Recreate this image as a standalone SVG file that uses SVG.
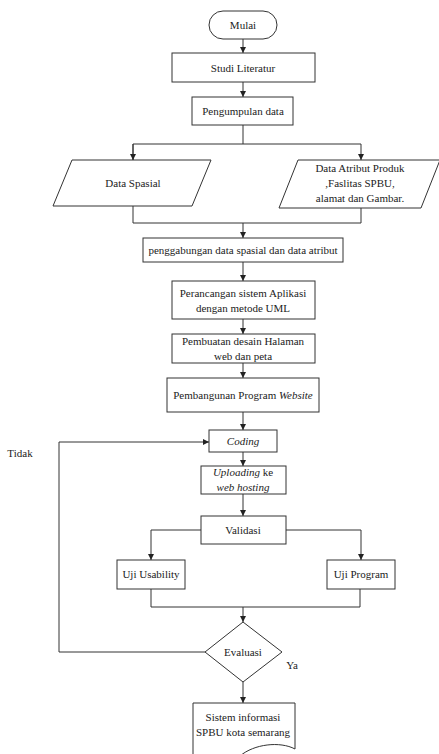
<svg xmlns="http://www.w3.org/2000/svg" width="439" height="754" viewBox="0 0 439 754">
<style>
.s{fill:#fff;stroke:#333;stroke-width:1}
.c{fill:none;stroke:#333;stroke-width:1}
text{font-family:"Liberation Serif","Times New Roman",serif;font-size:11px;fill:#222;text-anchor:middle}
.i{font-style:italic}
</style>
<defs>
<marker id="a" viewBox="0 0 6 6" refX="6" refY="3" markerWidth="6" markerHeight="6" orient="auto" markerUnits="userSpaceOnUse">
<path d="M0,0 L6,3 L0,6 z" fill="#222"/>
</marker>
</defs>
<rect width="439" height="754" fill="#fff"/>
<g id="connectors">
<path class="c" d="M243,39 V53" marker-end="url(#a)"/>
<path class="c" d="M243,82 V97" marker-end="url(#a)"/>
<path class="c" d="M243,125 V144"/>
<path class="c" d="M133,160 V144 H361 V160" marker-end="url(#a)"/>
<path class="c" d="M133,144 V160" marker-end="url(#a)"/>
<path class="c" d="M133,206 V223 H361 V208"/>
<path class="c" d="M243,223 V238" marker-end="url(#a)"/>
<path class="c" d="M243,262 V281" marker-end="url(#a)"/>
<path class="c" d="M243,319 V334" marker-end="url(#a)"/>
<path class="c" d="M243,363 V378" marker-end="url(#a)"/>
<path class="c" d="M243,412 V430" marker-end="url(#a)"/>
<path class="c" d="M243,452 V466" marker-end="url(#a)"/>
<path class="c" d="M243,494 V516" marker-end="url(#a)"/>
<path class="c" d="M201,530 H151 V560" marker-end="url(#a)"/>
<path class="c" d="M286,530 H361 V560" marker-end="url(#a)"/>
<path class="c" d="M151,589 V607 H360 V589"/>
<path class="c" d="M243,607 V622" marker-end="url(#a)"/>
<path class="c" d="M205,652 H59 V442 H209" marker-end="url(#a)"/>
<path class="c" d="M243,682 V703" marker-end="url(#a)"/>
</g>
<g id="mulai"><rect class="s" x="209" y="11" width="68" height="28" rx="14"/><text x="243" y="29">Mulai</text></g>
<g id="studi"><rect class="s" x="172" y="53" width="143" height="29"/><text x="243" y="71.5">Studi Literatur</text></g>
<g id="pengumpulan"><rect class="s" x="192" y="97" width="101" height="28"/><text x="243" y="115">Pengumpulan data</text></g>
<g id="spasial"><path class="s" d="M72,160 H211 L192,206 H53 Z"/><text x="133" y="187">Data Spasial</text></g>
<g id="atribut"><path class="s" d="M298,160 H440 L421,208 H279 Z"/><text x="360" y="172">Data Atribut Produk</text><text x="360" y="187">,Faslitas SPBU,</text><text x="360" y="202">alamat dan Gambar.</text></g>
<g id="penggabungan"><rect class="s" x="143" y="238" width="200" height="24"/><text x="243" y="254">penggabungan data spasial dan data atribut</text></g>
<g id="perancangan"><rect class="s" x="172" y="281" width="143" height="38"/><text x="243" y="297">Perancangan sistem Aplikasi</text><text x="243" y="312">dengan metode UML</text></g>
<g id="pembuatan"><rect class="s" x="172" y="334" width="143" height="29"/><text x="243" y="345">Pembuatan desain Halaman</text><text x="243" y="360">web dan peta</text></g>
<g id="pembangunan"><rect class="s" x="167" y="378" width="152" height="34"/><text x="243" y="399">Pembangunan Program <tspan class="i">Website</tspan></text></g>
<g id="coding"><rect class="s" x="209" y="430" width="68" height="22"/><text x="243" y="445" class="i">Coding</text></g>
<g id="uploading"><rect class="s" x="201" y="466" width="85" height="28"/><text x="243" y="476"><tspan class="i">Uploading</tspan> ke</text><text x="243" y="491" class="i">web hosting</text></g>
<g id="validasi"><rect class="s" x="201" y="516" width="85" height="28"/><text x="243" y="534">Validasi</text></g>
<g id="usability"><rect class="s" x="117" y="560" width="68" height="29"/><text x="151" y="578">Uji Usability</text></g>
<g id="program"><rect class="s" x="327" y="560" width="68" height="29"/><text x="361" y="578">Uji Program</text></g>
<g id="evaluasi"><path class="s" d="M243,622 L282,652 L243,682 L205,652 Z"/><text x="243" y="656">Evaluasi</text></g>
<text x="292" y="669">Ya</text>
<text x="20" y="457">Tidak</text>
<g id="sistem"><path class="s" d="M193,703 H295 V749 C280,741 254,744 240,756 L193,760 Z"/><text x="243" y="721">Sistem informasi</text><text x="243" y="736">SPBU kota semarang</text></g>
</svg>
